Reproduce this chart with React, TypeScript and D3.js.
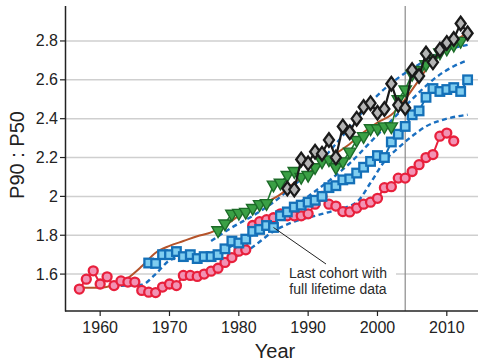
import React from "react";
import * as d3 from "d3";

// cohort series (year, P90:P50)
const redYears = d3.range(1957, 2012);
const redValues = [
  1.523, 1.574, 1.617, 1.549, 1.586, 1.541, 1.565, 1.559, 1.559, 1.516,
  1.507, 1.505, 1.533, 1.549, 1.541, 1.593, 1.593, 1.588, 1.6, 1.615,
  1.63, 1.66, 1.685, 1.718, 1.725, 1.85, 1.87, 1.88, 1.89, 1.91,
  1.9, 1.9, 1.9, 1.91, 1.96, 2.0, 1.96, 1.95, 1.922, 1.92,
  1.94, 1.96, 1.97, 1.99, 2.045, 2.05, 2.094, 2.094, 2.128, 2.163,
  2.2, 2.215, 2.31, 2.326, 2.285,
];

const blueYears = d3.range(1967, 2014);
const blueValues = [
  1.657, 1.655, 1.7, 1.7, 1.716, 1.69, 1.7, 1.68, 1.69, 1.69,
  1.7, 1.73, 1.77, 1.76, 1.78, 1.82, 1.83, 1.85, 1.84, 1.9,
  1.92, 1.945, 1.955, 1.97, 1.98, 2.0, 2.045, 2.055, 2.085, 2.09,
  2.12, 2.15, 2.18, 2.21, 2.2, 2.28, 2.32, 2.36, 2.42, 2.44,
  2.51, 2.555, 2.54, 2.55, 2.56, 2.54, 2.6,
];

const greenYears = d3.range(1977, 2013);
const greenValues = [
  1.825, 1.86, 1.91, 1.915, 1.92, 1.94, 1.96, 1.965, 2.06, 2.07,
  2.11, 2.13, 2.1, 2.11, 2.15, 2.18, 2.19, 2.15, 2.18, 2.23,
  2.29, 2.31, 2.35, 2.35, 2.36, 2.36, 2.5, 2.55, 2.63, 2.65,
  2.68, 2.71, 2.74, 2.76, 2.78, 2.8,
];

const blackYears = d3.range(1987, 2014);
const blackValues = [
  2.04, 2.035, 2.19, 2.17, 2.23, 2.22, 2.29, 2.2, 2.36, 2.33,
  2.4, 2.46, 2.48, 2.43, 2.45, 2.58, 2.47, 2.455, 2.65, 2.62,
  2.735, 2.69, 2.755, 2.79, 2.81, 2.89, 2.84,
];

// smooth brown curve
const brownYears = [1957, 1960, 1962, 1964, 1966, 1968, 1970, 1972, 1974, 1976, 1978, 1980, 1982, 1984, 1986, 1988, 1990, 1992, 1994, 1996, 1998, 2000, 2002, 2004, 2006, 2008, 2010, 2012, 2013];
const brownValues = [1.53, 1.53, 1.545, 1.58, 1.64, 1.71, 1.745, 1.77, 1.795, 1.815, 1.85, 1.9, 1.94, 1.97, 2.01, 2.07, 2.12, 2.17, 2.22, 2.27, 2.33, 2.38, 2.42, 2.5, 2.6, 2.7, 2.76, 2.82, 2.84];

// dashed projections
const dash1Years = [1974, 1979, 1982, 1985, 1988, 1991, 1994, 1997, 1999, 2001, 2003, 2005, 2007, 2010, 2013];
const dash1Values = [1.6, 1.68, 1.74, 1.82, 1.87, 1.9, 1.93, 1.97, 2.07, 2.18, 2.25, 2.31, 2.36, 2.4, 2.42];
const dash2Years = [1963, 1966, 1968, 1970, 1972, 1975, 1978, 1981, 1984, 1987, 1990, 1993, 1996, 1999, 2002, 2005, 2008, 2011, 2013];
const dash2Values = [1.54, 1.545, 1.6, 1.67, 1.69, 1.7, 1.73, 1.78, 1.85, 1.92, 2.0, 2.08, 2.17, 2.28, 2.39, 2.5, 2.6, 2.67, 2.7];
const dash3Years = [1976, 1979, 1982, 1985, 1988, 1991, 1994, 1997, 2000, 2003, 2006, 2009, 2013];
const dash3Values = [1.77, 1.84, 1.9, 1.97, 2.06, 2.15, 2.27, 2.4, 2.52, 2.61, 2.68, 2.74, 2.78];

const yTicks = [1.6, 1.8, 2, 2.2, 2.4, 2.6, 2.8];
const xTicks = [1960, 1970, 1980, 1990, 2000, 2010];
const cutoffYear = 2004;
const lastCohortYear = 1985;

const W = 478;
const H = 364;

const zip = (xs: number[], ys: number[]) => xs.map((x, i) => [x, ys[i]] as [number, number]);

export default function App() {
  const x = d3.scaleLinear().domain([1955, 2014.5]).range([65.5, 478]);
  const y = d3.scaleLinear().domain([1.41, 2.98]).range([311, 6]);

  const line = d3.line<[number, number]>().x((d) => x(d[0])).y((d) => y(d[1]));
  const smooth = d3
    .line<[number, number]>()
    .x((d) => x(d[0]))
    .y((d) => y(d[1]))
    .curve(d3.curveMonotoneX);

  const red = zip(redYears, redValues);
  const blue = zip(blueYears, blueValues);
  const green = zip(greenYears, greenValues);
  const black = zip(blackYears, blackValues);
  const dashes = [zip(dash1Years, dash1Values), zip(dash2Years, dash2Values), zip(dash3Years, dash3Values)];

  const tri = d3.symbol().type(d3.symbolTriangle).size(66)();
  const lastIdx = blueYears.indexOf(lastCohortYear);
  const lx = x(lastCohortYear);
  const ly = y(blueValues[lastIdx]);

  return (
    <svg width={W} height={H} style={{ display: "block", position: "absolute", left: 0, top: 0, background: "#fff" }}
      fontFamily="'Liberation Sans', Arial, sans-serif">
      {/* grid */}
      {yTicks.map((t) => (
        <line key={t} x1={66} x2={W} y1={y(t)} y2={y(t)} stroke="#cfcfcf" strokeWidth={1.5} />
      ))}
      <line x1={x(cutoffYear)} x2={x(cutoffYear)} y1={6} y2={311} stroke="#8a8a8a" strokeWidth={1.2} />

      {/* dashed projections */}
      {dashes.map((d, i) => (
        <path key={i} d={smooth(d) || ""} fill="none" stroke="#1a6fc0" strokeWidth={2.4} strokeDasharray="5,3.5" />
      ))}

      <path d={smooth(zip(brownYears, brownValues)) || ""} fill="none" stroke="#b5532a" strokeWidth={2} />

      {/* red */}
      <path d={line(red) || ""} fill="none" stroke="#e8203c" strokeWidth={2} />
      {red.map((d, i) => (
        <circle key={i} cx={x(d[0])} cy={y(d[1])} r={4.5} fill="#f293b4" stroke="#e8203c" strokeWidth={2.3} />
      ))}

      {/* blue */}
      <path d={line(blue) || ""} fill="none" stroke="#1470b8" strokeWidth={2} />
      {blue.map((d, i) => (
        <rect key={i} x={x(d[0]) - 4.3} y={y(d[1]) - 4.3} width={8.6} height={8.6} fill="#7fcdf0" stroke="#1470b8" strokeWidth={2.3} />
      ))}

      {/* annotation leader */}
      <line x1={lx} y1={ly} x2={326} y2={264} stroke="#222" strokeWidth={1} />
      <rect x={280} y={265} width={116} height={31} fill="#fff" />
      <text x={338} y={278} textAnchor="middle" fontSize={14} fill="#2a2a2a">Last cohort with</text>
      <text x={338} y={294} textAnchor="middle" fontSize={14} fill="#2a2a2a">full lifetime data</text>

      {/* green */}
      <path d={line(green) || ""} fill="none" stroke="#1f7a30" strokeWidth={1.6} />
      {green.map((d, i) => (
        <path key={i} d={tri || ""} transform={`translate(${x(d[0])},${y(d[1])}) rotate(180)`} fill="#3aa045" stroke="#1c6b28" strokeWidth={1.4} />
      ))}

      {/* black */}
      <path d={line(black) || ""} fill="none" stroke="#1a1a1a" strokeWidth={2.2} />
      {black.map((d, i) => (
        <path key={i} d="M0,-6.8L5,0L0,6.8L-5,0Z" transform={`translate(${x(d[0])},${y(d[1])})`} fill="#b4b4b4" stroke="#1a1a1a" strokeWidth={2.3} />
      ))}

      {/* axes */}
      <line x1={65.5} x2={65.5} y1={6} y2={311.5} stroke="#222" strokeWidth={1.5} />
      <line x1={65} x2={W} y1={311} y2={311} stroke="#222" strokeWidth={1.5} />
      {yTicks.map((t) => (
        <g key={t}>
          <line x1={60} x2={65} y1={y(t)} y2={y(t)} stroke="#222" strokeWidth={1.2} />
          <text x={58} y={y(t) + 5.5} textAnchor="end" fontSize={16} fill="#222">{String(t)}</text>
        </g>
      ))}
      {xTicks.map((t) => (
        <g key={t}>
          <line x1={x(t)} x2={x(t)} y1={311} y2={316} stroke="#222" strokeWidth={1.2} />
          <text x={x(t)} y={333} textAnchor="middle" fontSize={16} fill="#222">{t}</text>
        </g>
      ))}
      <text x={275} y={358} textAnchor="middle" fontSize={20} fill="#222">Year</text>
      <text transform="translate(24,155) rotate(-90)" textAnchor="middle" fontSize={20} fill="#222">P90 : P50</text>
    </svg>
  );
}
